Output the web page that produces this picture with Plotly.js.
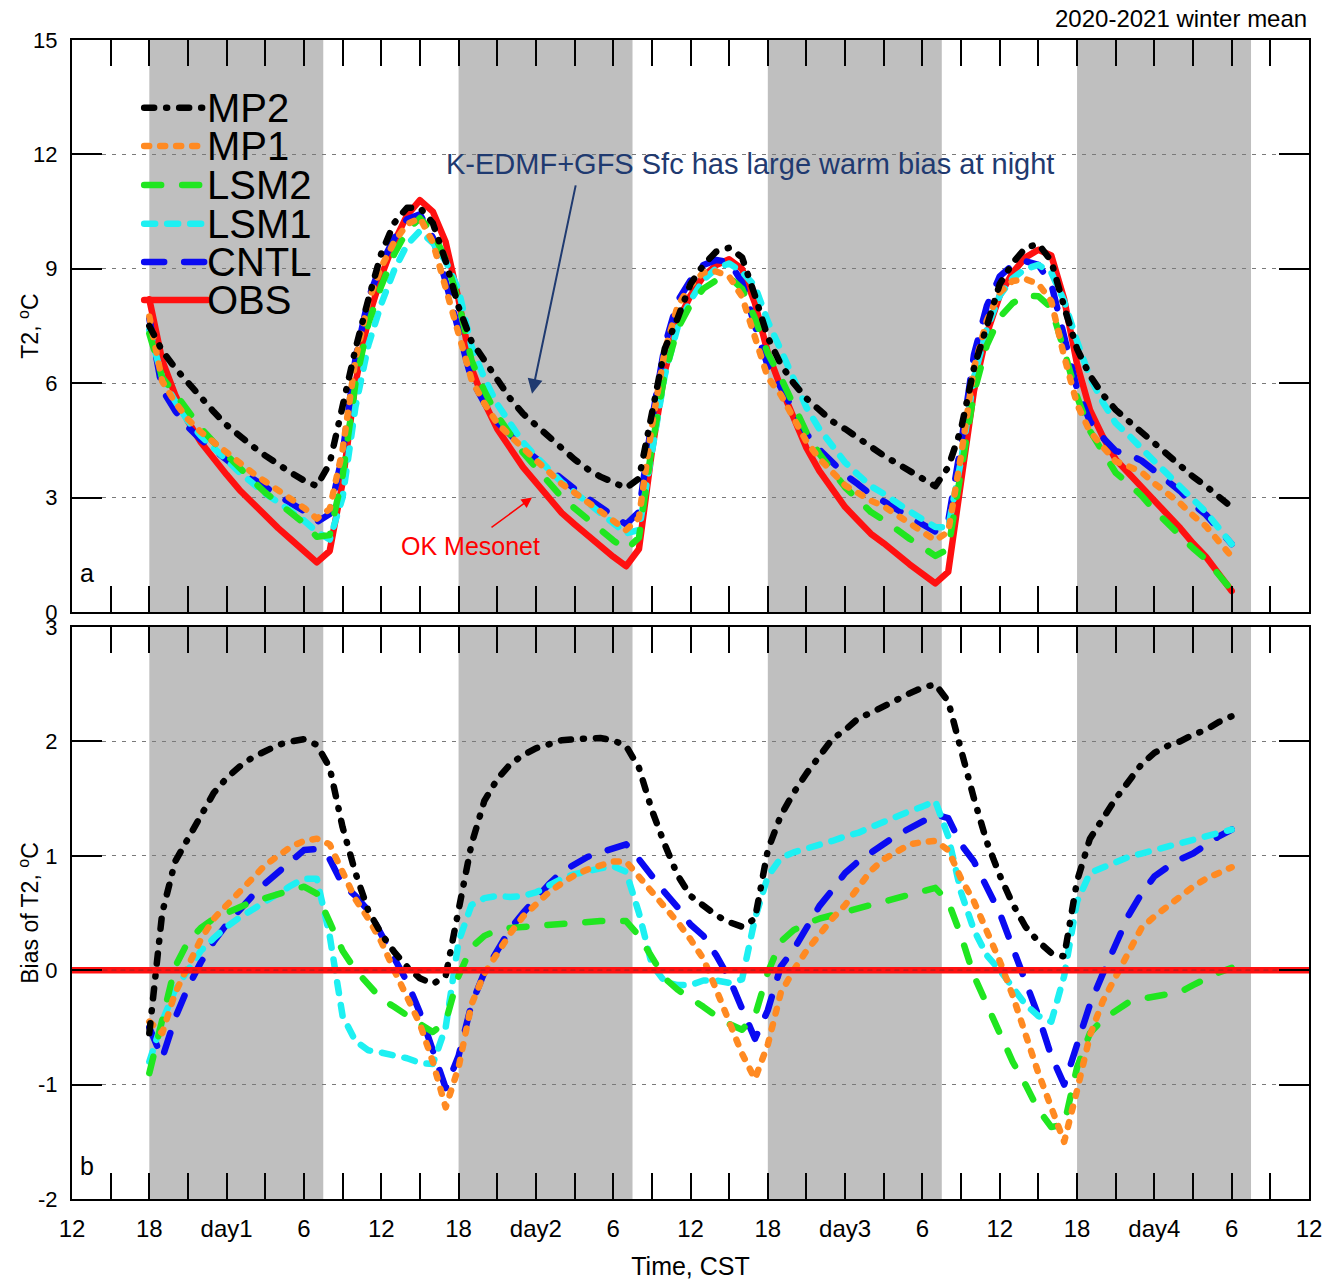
<!DOCTYPE html>
<html>
<head>
<meta charset="utf-8">
<script src="https://cdn.plot.ly/plotly-3.0.1.min.js"></script>
<style>
html,body{margin:0;padding:0;background:#fff;}
#chart{width:1324px;height:1282px;}
.scatterlayer .js-line{stroke-linecap:round;stroke-linejoin:round;}
.shapelayer path{stroke-linecap:round;}
</style>
</head>
<body>
<div id="chart"></div>
<script>
// ---------- data (hours since 00 CST of day 0) ----------
const hours = [18,19,20,21,22,23,24,25,26,27,28,29,30,31,32,33,34,35,36,37,38,39,40,41,42,43,44,45,46,47,48,49,50,51,52,53,54,55,56,57,58,59,60,61,62,63,64,65,66,67,68,69,70,71,72,73,74,75,76,77,78,79,80,81,82,83,84,85,86,87,88,89,90,91,92,93,94,95,96,97,98,99,100,101,102];

// panel a: 2-m temperature (deg C)
const obsT2 = [8.2,6.6,5.7,5.0,4.45,4.0,3.6,3.2,2.85,2.5,2.2,1.9,1.6,1.3, 1.6,3.4,6.0,7.7,8.8,9.7,10.4,10.8,10.5,9.7, 8.2,6.4,5.5,4.8,4.3,3.8,3.4,3.0,2.6,2.3,2.0,1.7,1.45,1.2, 1.65,4.2,6.3,7.6,8.3,8.8,9.1,9.25,9.0,8.1, 6.8,5.9,5.1,4.3,3.7,3.2,2.75,2.4,2.05,1.8,1.5,1.25,1.0,0.75, 1.05,3.3,5.8,7.3,8.3,8.9,9.3,9.5,9.35,8.2, 6.5,5.3,4.6,4.0,3.65,3.3,2.9,2.55,2.2,1.8,1.45,1.0,0.55];
const mp2T2 = [7.5,6.85,6.4,6.0,5.6,5.25,4.9,4.6,4.35,4.1,3.85,3.65,3.45,3.3, 3.9,5.4,6.9,8.2,9.4,10.2,10.6,10.6,10.2,9.2, 8.0,7.1,6.6,6.1,5.6,5.2,4.9,4.6,4.25,4.0,3.75,3.55,3.4,3.25, 3.5,5.3,6.9,7.7,8.6,9.1,9.45,9.55,9.3,8.3, 7.2,6.5,6.0,5.6,5.3,5.0,4.8,4.55,4.3,4.1,3.9,3.7,3.5,3.3, 3.8,4.8,6.4,7.5,8.6,9.15,9.55,9.65,9.2,8.0, 6.9,6.2,5.7,5.3,5.0,4.7,4.4,4.1,3.8,3.55,3.3,3.05,2.75];
const mp1T2 = [7.75,6.05,5.5,5.05,4.72,4.45,4.17,3.9,3.65,3.42,3.2,2.98,2.73,2.45, 2.7,4.25,6.62,8.15,9.05,9.7,10.17,10.33,9.7,8.5, 7.35,6.1,5.47,4.95,4.62,4.27,3.98,3.68,3.36,3.13,2.88,2.62,2.4,2.15, 2.47,4.87,6.84,8.02,8.57,8.9,8.93,8.8,8.27,7.15, 6.15,5.7,5.1,4.47,4.02,3.65,3.32,3.12,2.92,2.77,2.54,2.35,2.12,1.88, 2.1,4.1,6.4,7.65,8.38,8.68,8.73,8.6,8.15,6.7, 5.45,4.73,4.33,3.95,3.82,3.67,3.37,3.11,2.85,2.53,2.25,1.85,1.45];
const lsm2T2 = [7.3,6.15,5.73,5.25,4.82,4.45,4.1,3.75,3.45,3.13,2.87,2.6,2.33,1.97, 2.02,3.57,6.0,7.57,8.55,9.38,10.0,10.33,9.96,9.25, 8.15,6.6,5.8,5.15,4.67,4.18,3.79,3.4,3.01,2.72,2.43,2.13,1.88,1.63, 1.95,4.32,6.23,7.43,8.06,8.48,8.7,8.78,8.48,7.7, 6.78,6.15,5.45,4.71,4.15,3.68,3.27,2.95,2.62,2.41,2.14,1.92,1.7,1.47, 1.65,3.6,5.75,7.0,7.73,8.1,8.3,8.28,7.98,6.85, 5.65,4.75,4.17,3.65,3.37,3.05,2.67,2.33,2.01,1.67,1.38,0.98,0.57];
const lsm1T2 = [7.4,6.15,5.53,5.0,4.62,4.28,3.98,3.66,3.38,3.1,2.88,2.64,2.4,2.1, 1.9,3.0,5.38,7.0,8.08,8.96,9.63,9.99,9.68,9.2, 8.45,6.97,6.13,5.45,4.94,4.45,4.08,3.74,3.4,3.14,2.87,2.59,2.36,2.06, 2.15,4.25,6.2,7.47,8.17,8.71,9.01,9.14,8.92,8.55, 7.62,6.88,6.13,5.36,4.8,4.33,3.92,3.6,3.3,3.1,2.85,2.64,2.43,2.23, 2.22,3.98,6.15,7.43,8.3,8.75,9.0,9.1,8.9,8.15, 7.1,6.15,5.5,4.95,4.64,4.32,3.95,3.62,3.3,2.93,2.62,2.2,1.78];
const cntlT2 = [7.7,5.83,5.28,4.85,4.52,4.25,4.0,3.73,3.5,3.26,3.06,2.85,2.65,2.36, 2.57,4.15,6.65,8.22,9.12,9.8,10.3,10.43,9.82,8.67, 7.45,6.1,5.48,4.98,4.66,4.3,4.03,3.75,3.46,3.23,2.99,2.73,2.52,2.3, 2.62,5.02,6.98,8.15,8.7,9.1,9.23,9.18,8.65,7.5, 6.45,5.9,5.28,4.67,4.26,3.9,3.6,3.35,3.08,2.9,2.68,2.49,2.3,2.11, 2.38,4.4,6.75,8.03,8.8,9.1,9.2,9.1,8.6,7.2, 5.85,5.0,4.57,4.22,4.13,3.97,3.72,3.45,3.17,2.82,2.55,2.17,1.78];

// panel b: bias of T2 (deg C)
const mp2Bias = [-0.55,0.5,0.95,1.15,1.37,1.55,1.68,1.78,1.86,1.92,1.97,2.0,2.02,1.97, 1.77,1.25,0.85,0.52,0.32,0.16,0.03,-0.07,-0.12,-0.05, 0.5,1.1,1.48,1.67,1.8,1.88,1.94,1.98,2.01,2.02,2.03,2.03,2.01,1.96, 1.77,1.4,1.1,0.83,0.65,0.56,0.48,0.42,0.38,0.45, 1.05,1.35,1.55,1.72,1.88,2.02,2.1,2.2,2.25,2.31,2.37,2.42,2.47,2.5, 2.35,1.9,1.5,1.12,0.83,0.58,0.38,0.25,0.15,0.12, 0.78,1.15,1.33,1.5,1.65,1.8,1.9,1.96,2.0,2.06,2.1,2.17,2.22];
const mp1Bias = [-0.45,-0.55,-0.2,0.05,0.27,0.45,0.57,0.7,0.8,0.92,1.0,1.08,1.13,1.15, 1.1,0.85,0.62,0.45,0.25,0.0,-0.23,-0.47,-0.8,-1.2, -0.85,-0.3,-0.03,0.15,0.32,0.47,0.58,0.68,0.76,0.83,0.88,0.92,0.95,0.95, 0.82,0.67,0.54,0.42,0.27,0.1,-0.17,-0.45,-0.73,-0.95, -0.65,-0.2,0.0,0.17,0.32,0.45,0.57,0.72,0.87,0.97,1.04,1.1,1.12,1.13, 1.05,0.8,0.6,0.35,0.08,-0.22,-0.57,-0.9,-1.2,-1.5, -1.05,-0.57,-0.27,-0.05,0.17,0.37,0.47,0.56,0.65,0.73,0.8,0.85,0.9];
const lsm2Bias = [-0.9,-0.45,0.03,0.25,0.37,0.45,0.5,0.55,0.6,0.63,0.67,0.7,0.73,0.67, 0.42,0.17,0.0,-0.13,-0.25,-0.32,-0.4,-0.47,-0.54,-0.45, -0.05,0.2,0.3,0.35,0.37,0.38,0.39,0.4,0.41,0.42,0.43,0.43,0.43,0.43, 0.3,0.12,-0.07,-0.17,-0.24,-0.32,-0.4,-0.47,-0.52,-0.4, -0.02,0.25,0.35,0.41,0.45,0.48,0.52,0.55,0.57,0.61,0.64,0.67,0.7,0.72, 0.6,0.3,-0.05,-0.3,-0.57,-0.8,-1.0,-1.22,-1.37,-1.35, -0.85,-0.55,-0.43,-0.35,-0.28,-0.25,-0.23,-0.22,-0.19,-0.13,-0.07,-0.02,0.02];
const lsm1Bias = [-0.8,-0.45,-0.17,0.0,0.17,0.28,0.38,0.46,0.53,0.6,0.68,0.74,0.8,0.8, 0.3,-0.4,-0.62,-0.7,-0.72,-0.74,-0.77,-0.81,-0.82,-0.5, 0.25,0.57,0.63,0.65,0.64,0.65,0.68,0.74,0.8,0.84,0.87,0.89,0.91,0.86, 0.5,0.05,-0.1,-0.13,-0.13,-0.09,-0.09,-0.11,-0.08,0.45, 0.82,0.98,1.03,1.06,1.1,1.13,1.17,1.2,1.25,1.3,1.35,1.39,1.43,1.48, 1.17,0.68,0.35,0.13,0.0,-0.15,-0.3,-0.4,-0.45,-0.05, 0.6,0.85,0.9,0.95,0.99,1.02,1.05,1.07,1.1,1.13,1.17,1.2,1.23];
const cntlBias = [-0.5,-0.77,-0.42,-0.15,0.07,0.25,0.4,0.53,0.65,0.76,0.86,0.95,1.05,1.06, 0.97,0.75,0.65,0.52,0.32,0.1,-0.1,-0.37,-0.68,-1.03, -0.75,-0.3,-0.02,0.18,0.36,0.5,0.63,0.75,0.86,0.93,0.99,1.03,1.07,1.1, 0.97,0.82,0.68,0.55,0.4,0.3,0.13,-0.07,-0.35,-0.6, -0.35,0.03,0.18,0.37,0.56,0.7,0.85,0.95,1.03,1.1,1.18,1.24,1.3,1.36, 1.33,1.1,0.95,0.73,0.5,0.2,-0.1,-0.4,-0.75,-1.0, -0.65,-0.3,-0.03,0.22,0.48,0.67,0.82,0.9,0.97,1.02,1.1,1.17,1.23];
const obsBiasHours = [12, 108];
const obsBias = [0, 0];

// night-time shading (hours)
const nightStart = [18, 42, 66, 90];
const nightEnd = [31.5, 55.5, 79.5, 103.5];

// axes ticks
const tickHours = [12,15,18,21,24,27,30,33,36,39,42,45,48,51,54,57,60,63,66,69,72,75,78,81,84,87,90,93,96,99,102,105,108];
const tickLabels = ['12','','18','','day1','','6','','12','','18','','day2','','6','','12','','18','','day3','','6','','12','','18','','day4','','6','','12'];
const t2Ticks = [0,3,6,9,12,15];
const t2TickLabels = ['0','3','6','9','12','15'];
const biasTicks = [-2,-1,0,1,2,3];
const biasTickLabels = ['-2','-1','0','1','2','3'];

const seriesNames = ['MP2','MP1','LSM2','LSM1','CNTL','OBS'];

// ---------- styles ----------
const FONT = 'Liberation Sans, Arial, Helvetica, sans-serif';
const style = {
  MP2:  {color:'#000000', dash:'10px,12px,1px,12px', width:6.5},
  MP1:  {color:'#ff8a22', dash:'5px,11px', width:6.5},
  LSM2: {color:'#20e620', dash:'17px,21px', width:6.5},
  LSM1: {color:'#1ef0f2', dash:'11px,12px', width:6.5},
  CNTL: {color:'#0a0af2', dash:'20px,20px', width:6.5},
  OBS:  {color:'#ff1010', dash:'solid', width:6.5}
};

const topData = {MP2:mp2T2, MP1:mp1T2, LSM2:lsm2T2, LSM1:lsm1T2, CNTL:cntlT2, OBS:obsT2};
const botData = {MP2:mp2Bias, MP1:mp1Bias, LSM2:lsm2Bias, LSM1:lsm1Bias, CNTL:cntlBias};

const traces = [];
['OBS','CNTL','LSM1','LSM2','MP1','MP2'].forEach(n => {
  traces.push({type:'scatter', mode:'lines', name:n, x:hours, y:topData[n], xaxis:'x', yaxis:'y',
    line:{color:style[n].color, dash:style[n].dash, width:style[n].width}, hoverinfo:'skip'});
});
['CNTL','LSM1','LSM2','MP1','MP2'].forEach(n => {
  traces.push({type:'scatter', mode:'lines', name:n, x:hours, y:botData[n], xaxis:'x2', yaxis:'y2',
    line:{color:style[n].color, dash:style[n].dash, width:style[n].width}, hoverinfo:'skip'});
});
traces.push({type:'scatter', mode:'lines', name:'OBS', x:obsBiasHours, y:obsBias, xaxis:'x2', yaxis:'y2',
  line:{color:style.OBS.color, width:6.5}, hoverinfo:'skip'});

// ---------- shapes ----------
const shapes = [];
nightStart.forEach((s, i) => {
  ['', '2'].forEach(k => {
    shapes.push({type:'rect', layer:'below', xref:'x'+k, yref:'y'+k+' domain', x0:s, x1:nightEnd[i], y0:0, y1:1,
      fillcolor:'#bfbfbf', line:{width:0}});
  });
});
// dashed grid line drawn over the zero-bias line
shapes.push({type:'line', layer:'above', xref:'x2 domain', yref:'y2', x0:0.025, x1:0.975, y0:0, y1:0,
  line:{color:'rgba(110,40,40,0.55)', width:1.2, dash:'4px,5px'}});

// legend keys (top panel, data coordinates)
const legendY = {MP2:13.22, MP1:12.22, LSM2:11.2, LSM1:10.18, CNTL:9.18, OBS:8.18};
seriesNames.forEach(n => {
  shapes.push({type:'line', layer:'above', xref:'x', yref:'y', x0:17.6, x1:22.5, y0:legendY[n], y1:legendY[n],
    line:{color:style[n].color, width:6.5, dash:style[n].dash}});
});

// ---------- annotations ----------
const annotations = [];
seriesNames.forEach(n => {
  annotations.push({xref:'x', yref:'y', x:22.35, y:legendY[n], xanchor:'left', yanchor:'middle', showarrow:false,
    text:n, font:{family:FONT, size:40, color:'#000'}});
});
annotations.push({xref:'paper', yref:'paper', x:1.0, y:1.0185, xanchor:'right', yanchor:'middle', showarrow:false,
  text:'2020-2021 winter mean', font:{family:FONT, size:24, color:'#000'}});
annotations.push({xref:'x', yref:'y', x:64.6, y:11.75, xanchor:'center', yanchor:'middle', showarrow:false,
  text:'K-EDMF+GFS Sfc has large warm bias at night', font:{family:FONT, size:29, color:'#1f3a70'}});
annotations.push({xref:'x', yref:'y', x:47.7, y:5.72, ax:44, ay:-210, text:'', showarrow:true,
  arrowhead:2, arrowsize:1.5, arrowwidth:2, arrowcolor:'#1f3a70', standoff:0});
annotations.push({xref:'x', yref:'y', x:42.9, y:1.72, xanchor:'center', yanchor:'middle', showarrow:false,
  text:'OK Mesonet', font:{family:FONT, size:25, color:'#ff0000'}});
annotations.push({xref:'x', yref:'y', x:47.7, y:3.0, ax:-42, ay:31, text:'', showarrow:true,
  arrowhead:2, arrowsize:1.4, arrowwidth:1.5, arrowcolor:'#ff0000', standoff:0});
annotations.push({xref:'paper', yref:'y domain', x:0.0121, y:0.068, xanchor:'center', yanchor:'middle', showarrow:false,
  text:'a', font:{family:FONT, size:25, color:'#000'}});
annotations.push({xref:'paper', yref:'y2 domain', x:0.0121, y:0.058, xanchor:'center', yanchor:'middle', showarrow:false,
  text:'b', font:{family:FONT, size:25, color:'#000'}});
// y-axis titles
annotations.push({xref:'paper', yref:'y domain', x:-0.035, y:0.5, xanchor:'center', yanchor:'middle', showarrow:false,
  textangle:-90, text:'T2, <sup>o</sup>C', font:{family:FONT, size:23, color:'#000'}});
annotations.push({xref:'paper', yref:'y2 domain', x:-0.035, y:0.5, xanchor:'center', yanchor:'middle', showarrow:false,
  textangle:-90, text:'Bias of T2, <sup>o</sup>C', font:{family:FONT, size:23, color:'#000'}});

// ---------- axes ----------
const xCommon = {range:[12,108], tickmode:'array', tickvals:tickHours, ticktext:tickLabels,
  ticks:'inside', ticklen:26, tickwidth:2, tickcolor:'#000', showline:true, linecolor:'#000', linewidth:2,
  mirror:'ticks', showgrid:false, zeroline:false, fixedrange:true};
const yCommon = {tickmode:'array', ticks:'inside', ticklen:30, tickwidth:2, tickcolor:'#000',
  showline:true, linecolor:'#000', linewidth:2, mirror:'ticks', showgrid:true, gridcolor:'#7a7a7a',
  gridwidth:1, griddash:'4px,6px', zeroline:false, tickfont:{family:FONT, size:22, color:'#000'},
  ticklabelstandoff:8, automargin:false, fixedrange:true};

const layout = {
  width:1324, height:1282,
  margin:{l:72, r:15, t:40, b:83},
  paper_bgcolor:'#ffffff', plot_bgcolor:'#ffffff',
  showlegend:false,
  font:{family:FONT, color:'#000'},
  xaxis:Object.assign({}, xCommon, {anchor:'y', showticklabels:false}),
  xaxis2:Object.assign({}, xCommon, {anchor:'y2', tickfont:{family:FONT, size:24, color:'#000'}, ticklabelstandoff:7,
    title:{text:'Time, CST', font:{family:FONT, size:25, color:'#000'}, standoff:17}}),
  yaxis:Object.assign({}, yCommon, {domain:[0.5065,1], anchor:'x', range:[0,15], tickvals:t2Ticks, ticktext:t2TickLabels}),
  yaxis2:Object.assign({}, yCommon, {domain:[0,0.4935], anchor:'x2', range:[-2,3], tickvals:biasTicks, ticktext:biasTickLabels}),
  shapes:shapes,
  annotations:annotations
};

Plotly.newPlot('chart', traces, layout, {staticPlot:true, displayModeBar:false});
</script>
</body>
</html>
